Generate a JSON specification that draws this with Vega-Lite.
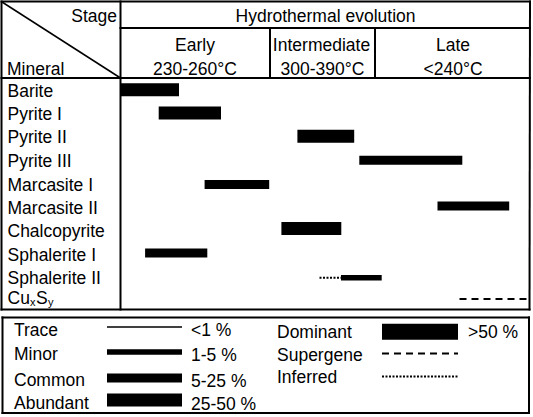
{
  "$schema": "https://vega.github.io/schema/vega-lite/v6.json",
  "width": 533,
  "height": 417,
  "autosize": {"type": "none"},
  "padding": 0,
  "background": "white",
  "config": {
    "view": {"stroke": null},
    "text": {"font": "Liberation Sans", "fontSize": 17.5, "color": "#000"}
  },
  "datasets": {
    "lines": [
      {"part": "frame", "x": 1.5, "y": 1.5, "x2": 530, "y2": 1.5},
      {"part": "frame", "x": 1.5, "y": 1.5, "x2": 1.5, "y2": 309.5},
      {"part": "frame", "x": 530, "y": 1.5, "x2": 529.5, "y2": 309.5},
      {"part": "frame", "x": 1.5, "y": 309.5, "x2": 529.5, "y2": 309.5},
      {"part": "frame", "x": 120.5, "y": 1.5, "x2": 120.5, "y2": 309.5},
      {"part": "frame", "x": 120.5, "y": 28, "x2": 530, "y2": 28},
      {"part": "frame", "x": 1.5, "y": 78, "x2": 530, "y2": 78},
      {"part": "frame", "x": 270, "y": 28, "x2": 270, "y2": 78},
      {"part": "frame", "x": 375, "y": 28, "x2": 375, "y2": 78},
      {"part": "frame", "x": 2.5, "y": 317.5, "x2": 529, "y2": 317.5},
      {"part": "frame", "x": 2.5, "y": 413, "x2": 529, "y2": 413},
      {"part": "frame", "x": 2.5, "y": 317.5, "x2": 2.5, "y2": 413},
      {"part": "frame", "x": 529, "y": 317.5, "x2": 529, "y2": 413},
      {"part": "diagonal", "x": 2, "y": 2, "x2": 120.5, "y2": 78}
    ],
    "bars": [
      {"mineral": "Barite", "start": 121, "end": 179, "y": 89.8, "abundance": "Abundant"},
      {"mineral": "Pyrite I", "start": 158.7, "end": 221, "y": 113.1, "abundance": "Abundant"},
      {"mineral": "Pyrite II", "start": 297.4, "end": 354.2, "y": 136.2, "abundance": "Abundant"},
      {"mineral": "Pyrite III", "start": 359.3, "end": 462.3, "y": 160.3, "abundance": "Common"},
      {"mineral": "Marcasite I", "start": 204.6, "end": 269.2, "y": 184.6, "abundance": "Common"},
      {"mineral": "Marcasite II", "start": 437.5, "end": 509.2, "y": 206, "abundance": "Common"},
      {"mineral": "Chalcopyrite", "start": 281.4, "end": 341.3, "y": 228.4, "abundance": "Abundant"},
      {"mineral": "Sphalerite I", "start": 145.1, "end": 207.3, "y": 253, "abundance": "Common"},
      {"mineral": "Sphalerite II", "start": 341, "end": 381.7, "y": 277.7, "abundance": "Minor"},
      {"mineral": "key", "start": 107, "end": 182, "y": 327, "abundance": "Trace"},
      {"mineral": "key", "start": 107, "end": 182, "y": 352, "abundance": "Minor"},
      {"mineral": "key", "start": 107, "end": 182, "y": 378, "abundance": "Common"},
      {"mineral": "key", "start": 107, "end": 182, "y": 400, "abundance": "Abundant"},
      {"mineral": "key", "start": 382, "end": 458, "y": 331.7, "abundance": "Dominant"}
    ],
    "dashes": [
      {"mineral": "Sphalerite II", "start": 319.5, "end": 341, "y": 277.7, "style": "Inferred"},
      {"mineral": "CuxSy", "start": 459.5, "end": 529, "y": 298.9, "style": "Supergene"},
      {"mineral": "key", "start": 382, "end": 458, "y": 353.6, "style": "Supergene"},
      {"mineral": "key", "start": 382, "end": 458, "y": 376.4, "style": "Inferred"}
    ],
    "labels": [
      {"text": "Stage", "x": 117, "y": 22, "anchor": "right"},
      {"text": "Mineral", "x": 7, "y": 74.5, "anchor": "left"},
      {"text": "Hydrothermal evolution", "x": 325.5, "y": 21.5, "anchor": "center"},
      {"text": "Early", "x": 195, "y": 51, "anchor": "center"},
      {"text": "230-260°C", "x": 195, "y": 74.5, "anchor": "center"},
      {"text": "Intermediate", "x": 321.5, "y": 51, "anchor": "center"},
      {"text": "300-390°C", "x": 322.5, "y": 74.5, "anchor": "center"},
      {"text": "Late", "x": 453, "y": 51, "anchor": "center"},
      {"text": "<240°C", "x": 453, "y": 74.5, "anchor": "center"},
      {"text": "Barite", "x": 7.5, "y": 97, "anchor": "left"},
      {"text": "Pyrite I", "x": 7.5, "y": 119.5, "anchor": "left"},
      {"text": "Pyrite II", "x": 7.5, "y": 143, "anchor": "left"},
      {"text": "Pyrite III", "x": 7.5, "y": 166.5, "anchor": "left"},
      {"text": "Marcasite I", "x": 7.5, "y": 190.5, "anchor": "left"},
      {"text": "Marcasite II", "x": 7.5, "y": 213.5, "anchor": "left"},
      {"text": "Chalcopyrite", "x": 7.5, "y": 237, "anchor": "left"},
      {"text": "Sphalerite I", "x": 7.5, "y": 260.5, "anchor": "left"},
      {"text": "Sphalerite II", "x": 7.5, "y": 283.5, "anchor": "left"},
      {"text": "Cu", "x": 7.5, "y": 303.5, "anchor": "left"},
      {"text": "S", "x": 36, "y": 303.5, "anchor": "left"},
      {"text": "Trace", "x": 14, "y": 335.5, "anchor": "left"},
      {"text": "Minor", "x": 14, "y": 360, "anchor": "left"},
      {"text": "Common", "x": 14, "y": 386, "anchor": "left"},
      {"text": "Abundant", "x": 14, "y": 409, "anchor": "left"},
      {"text": "<1 %", "x": 191, "y": 335.5, "anchor": "left"},
      {"text": "1-5 %", "x": 191, "y": 361, "anchor": "left"},
      {"text": "5-25 %", "x": 191, "y": 386.5, "anchor": "left"},
      {"text": "25-50 %", "x": 191, "y": 410, "anchor": "left"},
      {"text": "Dominant", "x": 277, "y": 338, "anchor": "left"},
      {"text": "Supergene", "x": 277, "y": 361, "anchor": "left"},
      {"text": "Inferred", "x": 277, "y": 383, "anchor": "left"},
      {"text": ">50 %", "x": 468, "y": 338, "anchor": "left"}
    ],
    "subscripts": [
      {"text": "x", "x": 30, "y": 305.5},
      {"text": "y", "x": 48, "y": 305.5}
    ]
  },
  "layer": [
    {
      "data": {"name": "lines"},
      "transform": [{"filter": "datum.part === 'frame'"}],
      "mark": {"type": "rule", "strokeWidth": 2, "color": "#000", "strokeCap": "square"},
      "encoding": {
        "x": {"field": "x", "type": "quantitative", "scale": {"domain": [0, 533], "nice": false, "zero": false}, "axis": null},
        "x2": {"field": "x2"},
        "y": {"field": "y", "type": "quantitative", "scale": {"domain": [0, 417], "nice": false, "zero": false, "reverse": true}, "axis": null},
        "y2": {"field": "y2"}
      }
    },
    {
      "data": {"name": "lines"},
      "transform": [{"filter": "datum.part === 'diagonal'"}],
      "mark": {"type": "rule", "strokeWidth": 1.5, "color": "#000"},
      "encoding": {
        "x": {"field": "x", "type": "quantitative", "axis": null},
        "x2": {"field": "x2"},
        "y": {"field": "y", "type": "quantitative", "axis": null},
        "y2": {"field": "y2"}
      }
    },
    {
      "data": {"name": "bars"},
      "mark": {"type": "rule", "color": "#000", "strokeCap": "butt"},
      "encoding": {
        "x": {"field": "start", "type": "quantitative", "axis": null},
        "x2": {"field": "end"},
        "y": {"field": "y", "type": "quantitative", "axis": null},
        "strokeWidth": {
          "field": "abundance",
          "type": "ordinal",
          "scale": {"type": "ordinal", "domain": ["Trace", "Minor", "Common", "Abundant", "Dominant"], "range": [1.6, 5.5, 9, 13, 16]},
          "legend": null
        }
      }
    },
    {
      "data": {"name": "dashes"},
      "mark": {"type": "rule", "color": "#000", "strokeCap": "butt", "strokeWidth": 2},
      "encoding": {
        "x": {"field": "start", "type": "quantitative", "axis": null},
        "x2": {"field": "end"},
        "y": {"field": "y", "type": "quantitative", "axis": null},
        "strokeDash": {
          "field": "style",
          "type": "nominal",
          "scale": {"domain": ["Supergene", "Inferred"], "range": [[7, 5], [2, 1.5]]},
          "legend": null
        }
      }
    },
    {
      "data": {"name": "labels"},
      "transform": [{"filter": "datum.anchor === 'left'"}],
      "mark": {"type": "text", "align": "left", "baseline": "alphabetic"},
      "encoding": {
        "x": {"field": "x", "type": "quantitative", "axis": null},
        "y": {"field": "y", "type": "quantitative", "axis": null},
        "text": {"field": "text"}
      }
    },
    {
      "data": {"name": "labels"},
      "transform": [{"filter": "datum.anchor === 'center'"}],
      "mark": {"type": "text", "align": "center", "baseline": "alphabetic"},
      "encoding": {
        "x": {"field": "x", "type": "quantitative", "axis": null},
        "y": {"field": "y", "type": "quantitative", "axis": null},
        "text": {"field": "text"}
      }
    },
    {
      "data": {"name": "labels"},
      "transform": [{"filter": "datum.anchor === 'right'"}],
      "mark": {"type": "text", "align": "right", "baseline": "alphabetic"},
      "encoding": {
        "x": {"field": "x", "type": "quantitative", "axis": null},
        "y": {"field": "y", "type": "quantitative", "axis": null},
        "text": {"field": "text"}
      }
    },
    {
      "data": {"name": "subscripts"},
      "mark": {"type": "text", "align": "left", "baseline": "alphabetic", "fontSize": 11},
      "encoding": {
        "x": {"field": "x", "type": "quantitative", "axis": null},
        "y": {"field": "y", "type": "quantitative", "axis": null},
        "text": {"field": "text"}
      }
    }
  ]
}
